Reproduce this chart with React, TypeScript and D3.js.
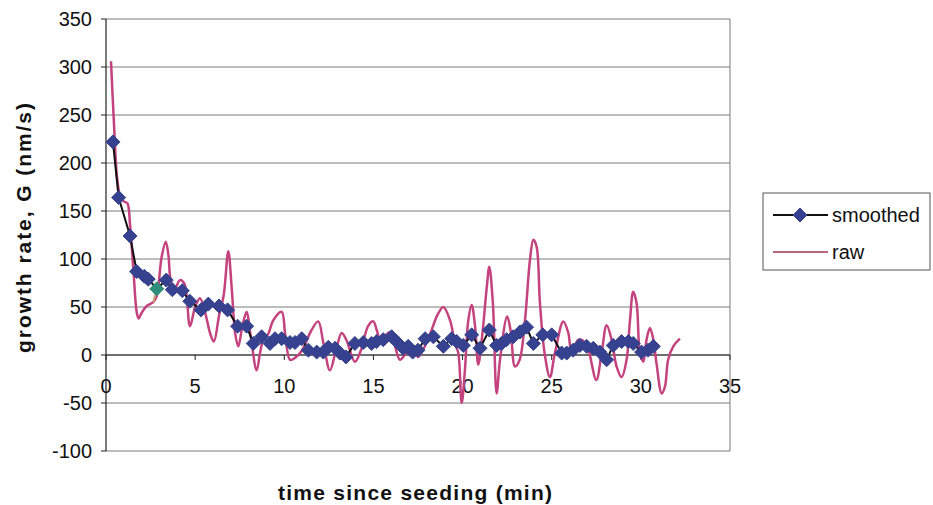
import React from "react";
import * as d3 from "d3";

// Smoothed growth rate (min, nm/s)
const smoothedTime = [
  0.39, 0.71, 1.35, 1.72, 2.15, 2.37, 2.85, 3.38, 3.72, 4.28, 4.7, 5.33, 5.74, 6.34, 6.82, 7.38, 7.89,
  8.26, 8.73, 9.2, 9.48, 9.85, 10.32, 10.6, 10.98, 11.35, 11.82, 12.19, 12.47, 12.85, 13.12, 13.46,
  13.96, 14.43, 14.9, 15.18, 15.55, 16.02, 16.3, 16.67, 16.95, 17.2, 17.5, 17.9, 18.36, 18.92, 19.39,
  19.67, 20.04, 20.51, 20.98, 21.5, 21.91, 22.19, 22.47, 22.84, 23.22, 23.59, 23.97, 24.5, 25.0,
  25.56, 25.84, 26.2, 26.58, 26.96, 27.33, 27.7, 28.08, 28.45, 28.92, 29.3, 29.57, 30.04, 30.4, 30.7,
];
const smoothedRate = [
  222, 164, 124, 87, 82, 79, 69, 78, 68, 67, 56, 47, 53, 51, 47, 30, 30,
  12, 19, 12, 17, 17, 13, 13, 17, 5, 3, 3, 8, 7, 2, -2,
  12, 13, 12, 14, 16, 19, 14, 7, 9, 3, 5, 17, 19, 9, 17,
  14, 10, 21, 7, 26, 10, 12, 16, 19, 24, 29, 12, 21, 21,
  2, 2, 5, 10, 9, 7, 3, -5, 10, 14, 14, 12, 3, 5, 9,
];
// index of the highlighted smoothed point
const highlightIndex = 6;

// Raw growth rate (min, nm/s)
const rawTime = [
  0.28, 0.45, 0.62, 0.8, 1.0, 1.2, 1.35, 1.55, 1.72, 1.83, 2.0, 2.28, 2.65, 2.84, 3.12, 3.35, 3.5,
  3.65, 3.87, 4.15, 4.4, 4.71, 5.0, 5.27, 5.55, 5.85, 6.05, 6.35, 6.6, 6.86, 7.05, 7.25, 7.42, 7.65,
  7.89, 8.1, 8.45, 8.64, 8.82, 9.1, 9.38, 9.85, 10.05, 10.32, 10.6, 11.0, 11.5, 11.9, 12.2, 12.56,
  12.9, 13.22, 13.5, 13.96, 14.3, 14.7, 14.99, 15.2, 15.37, 15.65, 15.93, 16.2, 16.49, 16.85, 17.2,
  17.5, 17.85, 18.2, 18.6, 18.92, 19.3, 19.57, 19.76, 19.95, 20.13, 20.32, 20.51, 20.7, 20.88, 21.1,
  21.36, 21.5, 21.7, 21.91, 22.1, 22.5, 22.7, 22.94, 23.2, 23.5, 23.78, 23.97, 24.15, 24.34, 24.6,
  24.9, 25.18, 25.65, 25.93, 26.1, 26.3, 26.5, 26.75, 27.0, 27.5, 27.8, 28.08, 28.36, 28.64, 28.92,
  29.2, 29.39, 29.57, 29.76, 29.95, 30.14, 30.32, 30.51, 30.7, 30.88, 31.17, 31.35, 31.53, 31.82, 32.19,
];
const rawRate = [
  306, 240, 185, 165, 160, 158, 135, 85, 45, 38, 44, 51, 55, 61, 102, 118, 104,
  76, 70, 78, 74, 30, 50, 59, 45, 22, 14, 42, 62, 108, 70, 22, 9, 30,
  45, 22, -16, 2, 16, 22, 36, 45, 22, -5, -3, 5, 25, 35, 12, -16,
  5, 23, 15, -7, 5, 30, 35, 25, 16, 20, 24, 10, -5, 2, 5,
  -2, 8, 23, 42, 50, 36, 12, 2, -50, -16, 36, 52, 30, -10, 20,
  71, 92, 54, -40, -5, 40, 25, -12, -5, 36, 99, 120, 113, 54, 2,
  -23, 2, 35, 23, 5, 10, 16, 15, 9, -26, 2, 31, 16, -12, -23,
  -5, 36, 66, 54, 2, -7, 16, 28, 16, -9, -40, -33, -5, 9, 17,
];
// raw sample joined to the highlighted point in the accent colour
const rawAccentIndex = 12;

const xTicks = [0, 5, 10, 15, 20, 25, 30, 35];
const yTicks = [-100, -50, 0, 50, 100, 150, 200, 250, 300, 350];

const seriesNames = ["smoothed", "raw"];
const xTitle = "time since seeding (min)";
const yTitle = "growth rate, G (nm/s)";

const W = 933;
const H = 505;
const FONT = "'Liberation Sans', Arial, sans-serif";

export default function App() {
  const x = d3.scaleLinear().domain([0, 35]).range([106, 730]);
  const y = d3.scaleLinear().domain([-100, 350]).range([451, 19]);

  const smoothed = smoothedTime.map((t, i) => [t, smoothedRate[i]] as [number, number]);
  const raw = rawTime.map((t, i) => [t, rawRate[i]] as [number, number]);

  const rawLine = d3
    .line<[number, number]>()
    .x((d) => x(d[0]))
    .y((d) => y(d[1]))
    .curve(d3.curveCatmullRom.alpha(0.5));
  const smoothLine = d3
    .line<[number, number]>()
    .x((d) => x(d[0]))
    .y((d) => y(d[1]));

  const accentSeg = [raw[rawAccentIndex], smoothed[highlightIndex]];

  const diamond = (cx: number, cy: number, r: number) =>
    `M${cx},${cy - r}L${cx + r},${cy}L${cx},${cy + r}L${cx - r},${cy}Z`;

  const [x0, x1] = x.range();
  const [yb, yt] = y.range();

  return (
    <svg
      width={W}
      height={H}
      style={{ position: "absolute", left: 0, top: 0, background: "#fff" }}
      fontFamily={FONT}
    >
      <rect x={0} y={0} width={W} height={H} fill="#fff" />
      {/* horizontal gridlines */}
      {yTicks.map((v) => (
        <line key={"g" + v} x1={x0} x2={x1} y1={y(v)} y2={y(v)} stroke="#7a7a7a" strokeWidth={1} />
      ))}
      {/* plot frame right side */}
      <line x1={x1} x2={x1} y1={yt} y2={yb} stroke="#7a7a7a" strokeWidth={1} />
      {/* y axis */}
      <line x1={x0} x2={x0} y1={yt} y2={yb} stroke="#222" strokeWidth={1.2} />
      {yTicks.map((v) => (
        <g key={"yt" + v}>
          <line x1={x0 - 5} x2={x0} y1={y(v)} y2={y(v)} stroke="#222" strokeWidth={1} />
          <text x={92} y={y(v)} dy="0.36em" textAnchor="end" fontSize={20} fill="#111">
            {v}
          </text>
        </g>
      ))}
      {/* x axis at zero */}
      <line x1={x0} x2={x1} y1={y(0)} y2={y(0)} stroke="#222" strokeWidth={1.2} />
      {xTicks.map((t) => (
        <g key={"xt" + t}>
          <line x1={x(t)} x2={x(t)} y1={y(0)} y2={y(0) + 5} stroke="#222" strokeWidth={1} />
          <text x={x(t)} y={393} textAnchor="middle" fontSize={20} fill="#111">
            {t}
          </text>
        </g>
      ))}

      {/* raw series */}
      <path d={rawLine(raw) || ""} fill="none" stroke="#c4427e" strokeWidth={2.5} />
      <path d={smoothLine(accentSeg) || ""} fill="none" stroke="#c9a27a" strokeWidth={2} />

      {/* smoothed series */}
      <path d={smoothLine(smoothed) || ""} fill="none" stroke="#111" strokeWidth={2} />
      {smoothed.map((d, i) => (
        <path
          key={"m" + i}
          d={diamond(x(d[0]), y(d[1]), 7)}
          fill={i === highlightIndex ? "#2f8f7c" : "#36428f"}
          stroke={i === highlightIndex ? "#2f8f7c" : "#36428f"}
          strokeWidth={1}
        />
      ))}

      {/* titles */}
      <text
        x={415}
        y={500}
        textAnchor="middle"
        fontSize={21}
        fontWeight="bold"
        fill="#111"
        textLength={274}
        lengthAdjust="spacing"
      >
        {xTitle}
      </text>
      <text
        transform={`translate(31,228) rotate(-90)`}
        textAnchor="middle"
        fontSize={21}
        fontWeight="bold"
        fill="#111"
        textLength={250}
        lengthAdjust="spacing"
      >
        {yTitle}
      </text>

      {/* legend */}
      <rect x={763} y={193} width={167} height={77} fill="#fff" stroke="#555" strokeWidth={1} />
      <line x1={773} x2={828} y1={215} y2={215} stroke="#111" strokeWidth={2} />
      <path d={diamond(800, 215, 7)} fill="#36428f" stroke="#36428f" />
      <text x={832} y={222} fontSize={20} fill="#111">
        {seriesNames[0]}
      </text>
      <line x1={773} x2={828} y1={252} y2={252} stroke="#a0304f" strokeWidth={1.3} />
      <text x={832} y={259} fontSize={20} fill="#111">
        {seriesNames[1]}
      </text>
    </svg>
  );
}
